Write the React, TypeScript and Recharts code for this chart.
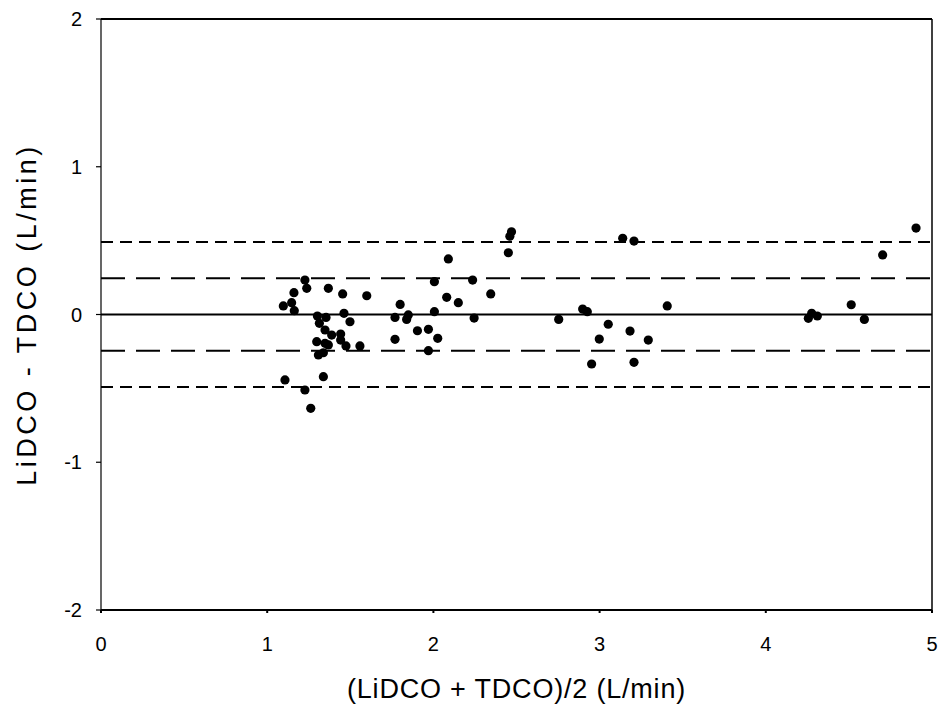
import React from "react";
import {
  ScatterChart,
  Scatter,
  XAxis,
  YAxis,
  ReferenceLine,
} from "recharts";

// mean of the two methods (L/min)
const meanCO = [
  1.227, 1.238, 1.161, 1.368, 1.454, 1.599, 1.097, 1.147, 1.163, 1.302,
  1.354, 1.462, 1.498, 1.314, 1.348, 1.388, 1.442, 1.298, 1.348, 1.368,
  1.442, 1.474, 1.558, 1.308, 1.338, 1.107, 1.338, 1.227, 1.262, 1.8,
  1.769, 1.849, 1.839, 1.904, 1.769, 1.97, 2.026, 1.97, 2.006, 2.006,
  2.08, 2.15, 2.09, 2.236, 2.245, 2.345, 2.451, 2.46, 2.47, 2.754,
  2.898, 2.926, 2.952, 2.998, 3.052, 3.139, 3.207, 3.183, 3.207, 3.293,
  3.407, 4.256, 4.276, 4.31, 4.514, 4.593, 4.703, 4.904,
];

// difference LiDCO - TDCO (L/min)
const diffCO = [
  0.233, 0.177, 0.148, 0.177, 0.139, 0.127, 0.058, 0.08, 0.026, -0.01,
  -0.02, 0.008, -0.049, -0.06, -0.105, -0.139, -0.132, -0.184, -0.195, -0.206,
  -0.173, -0.213, -0.213, -0.274, -0.259, -0.443, -0.421, -0.511, -0.635, 0.068,
  -0.02, -0.003, -0.033, -0.11, -0.168, -0.1, -0.161, -0.245, 0.019, 0.222,
  0.116, 0.08, 0.376, 0.233, -0.024, 0.139, 0.418, 0.53, 0.56, -0.033,
  0.037, 0.019, -0.335, -0.166, -0.066, 0.516, 0.497, -0.112, -0.324, -0.173,
  0.058, -0.026, 0.008, -0.01, 0.066, -0.033, 0.403, 0.585,
];

const xTicks = [0, 1, 2, 3, 4, 5];
const yTicks = [-2, -1, 0, 1, 2];

const meanBias = 0;
const sdLines = [0.245, -0.245];
const limitLines = [0.49, -0.49];

const data = meanCO.map((x, i) => ({ x, y: diffCO[i] }));

const FONT = "'Liberation Sans', Arial, sans-serif";

const Dot = (props: any) => (
  <circle cx={props.cx} cy={props.cy} r={4.6} fill="#000" />
);

export default function App() {
  return (
    <div style={{ position: "absolute", left: 0, top: 0, background: "#fff" }}>
      <ScatterChart
        width={943}
        height={710}
        margin={{ top: 19, right: 11, bottom: 10, left: 10 }}
      >
        <XAxis
          type="number"
          dataKey="x"
          domain={[0, 5]}
          ticks={xTicks}
          tickSize={3}
          tickMargin={24}
          height={90}
          stroke="#000"
          strokeWidth={2}
          tick={{ fill: "#000", fontSize: 20, fontFamily: FONT }}
          label={{
            value: "(LiDCO + TDCO)/2 (L/min)",
            position: "insideBottom",
            offset: 2,
            style: {
              fill: "#000",
              fontSize: 27,
              fontFamily: FONT,
              letterSpacing: 0.8,
            },
          }}
        />
        <YAxis
          type="number"
          dataKey="y"
          domain={[-2, 2]}
          ticks={yTicks}
          tickSize={5}
          tickMargin={14}
          width={91}
          stroke="#000"
          strokeWidth={1.2}
          tick={{ fill: "#000", fontSize: 20, fontFamily: FONT }}
          label={{
            value: "LiDCO - TDCO (L/min)",
            angle: -90,
            position: "insideLeft",
            offset: 16,
            style: {
              textAnchor: "middle",
              fill: "#000",
              fontSize: 27,
              fontFamily: FONT,
              letterSpacing: 3.5,
            },
          }}
        />
        <ReferenceLine y={2} stroke="#000" strokeWidth={2} />
        <ReferenceLine x={5} stroke="#000" strokeWidth={1.5} />
        <ReferenceLine y={meanBias} stroke="#000" strokeWidth={2} />
        {sdLines.map((v) => (
          <ReferenceLine
            key={`sd-${v}`}
            y={v}
            stroke="#000"
            strokeWidth={2}
            strokeDasharray="24 11"
          />
        ))}
        {limitLines.map((v) => (
          <ReferenceLine
            key={`lim-${v}`}
            y={v}
            stroke="#000"
            strokeWidth={2}
            strokeDasharray="12 7"
          />
        ))}
        <Scatter data={data} shape={Dot} isAnimationActive={false} />
      </ScatterChart>
    </div>
  );
}
